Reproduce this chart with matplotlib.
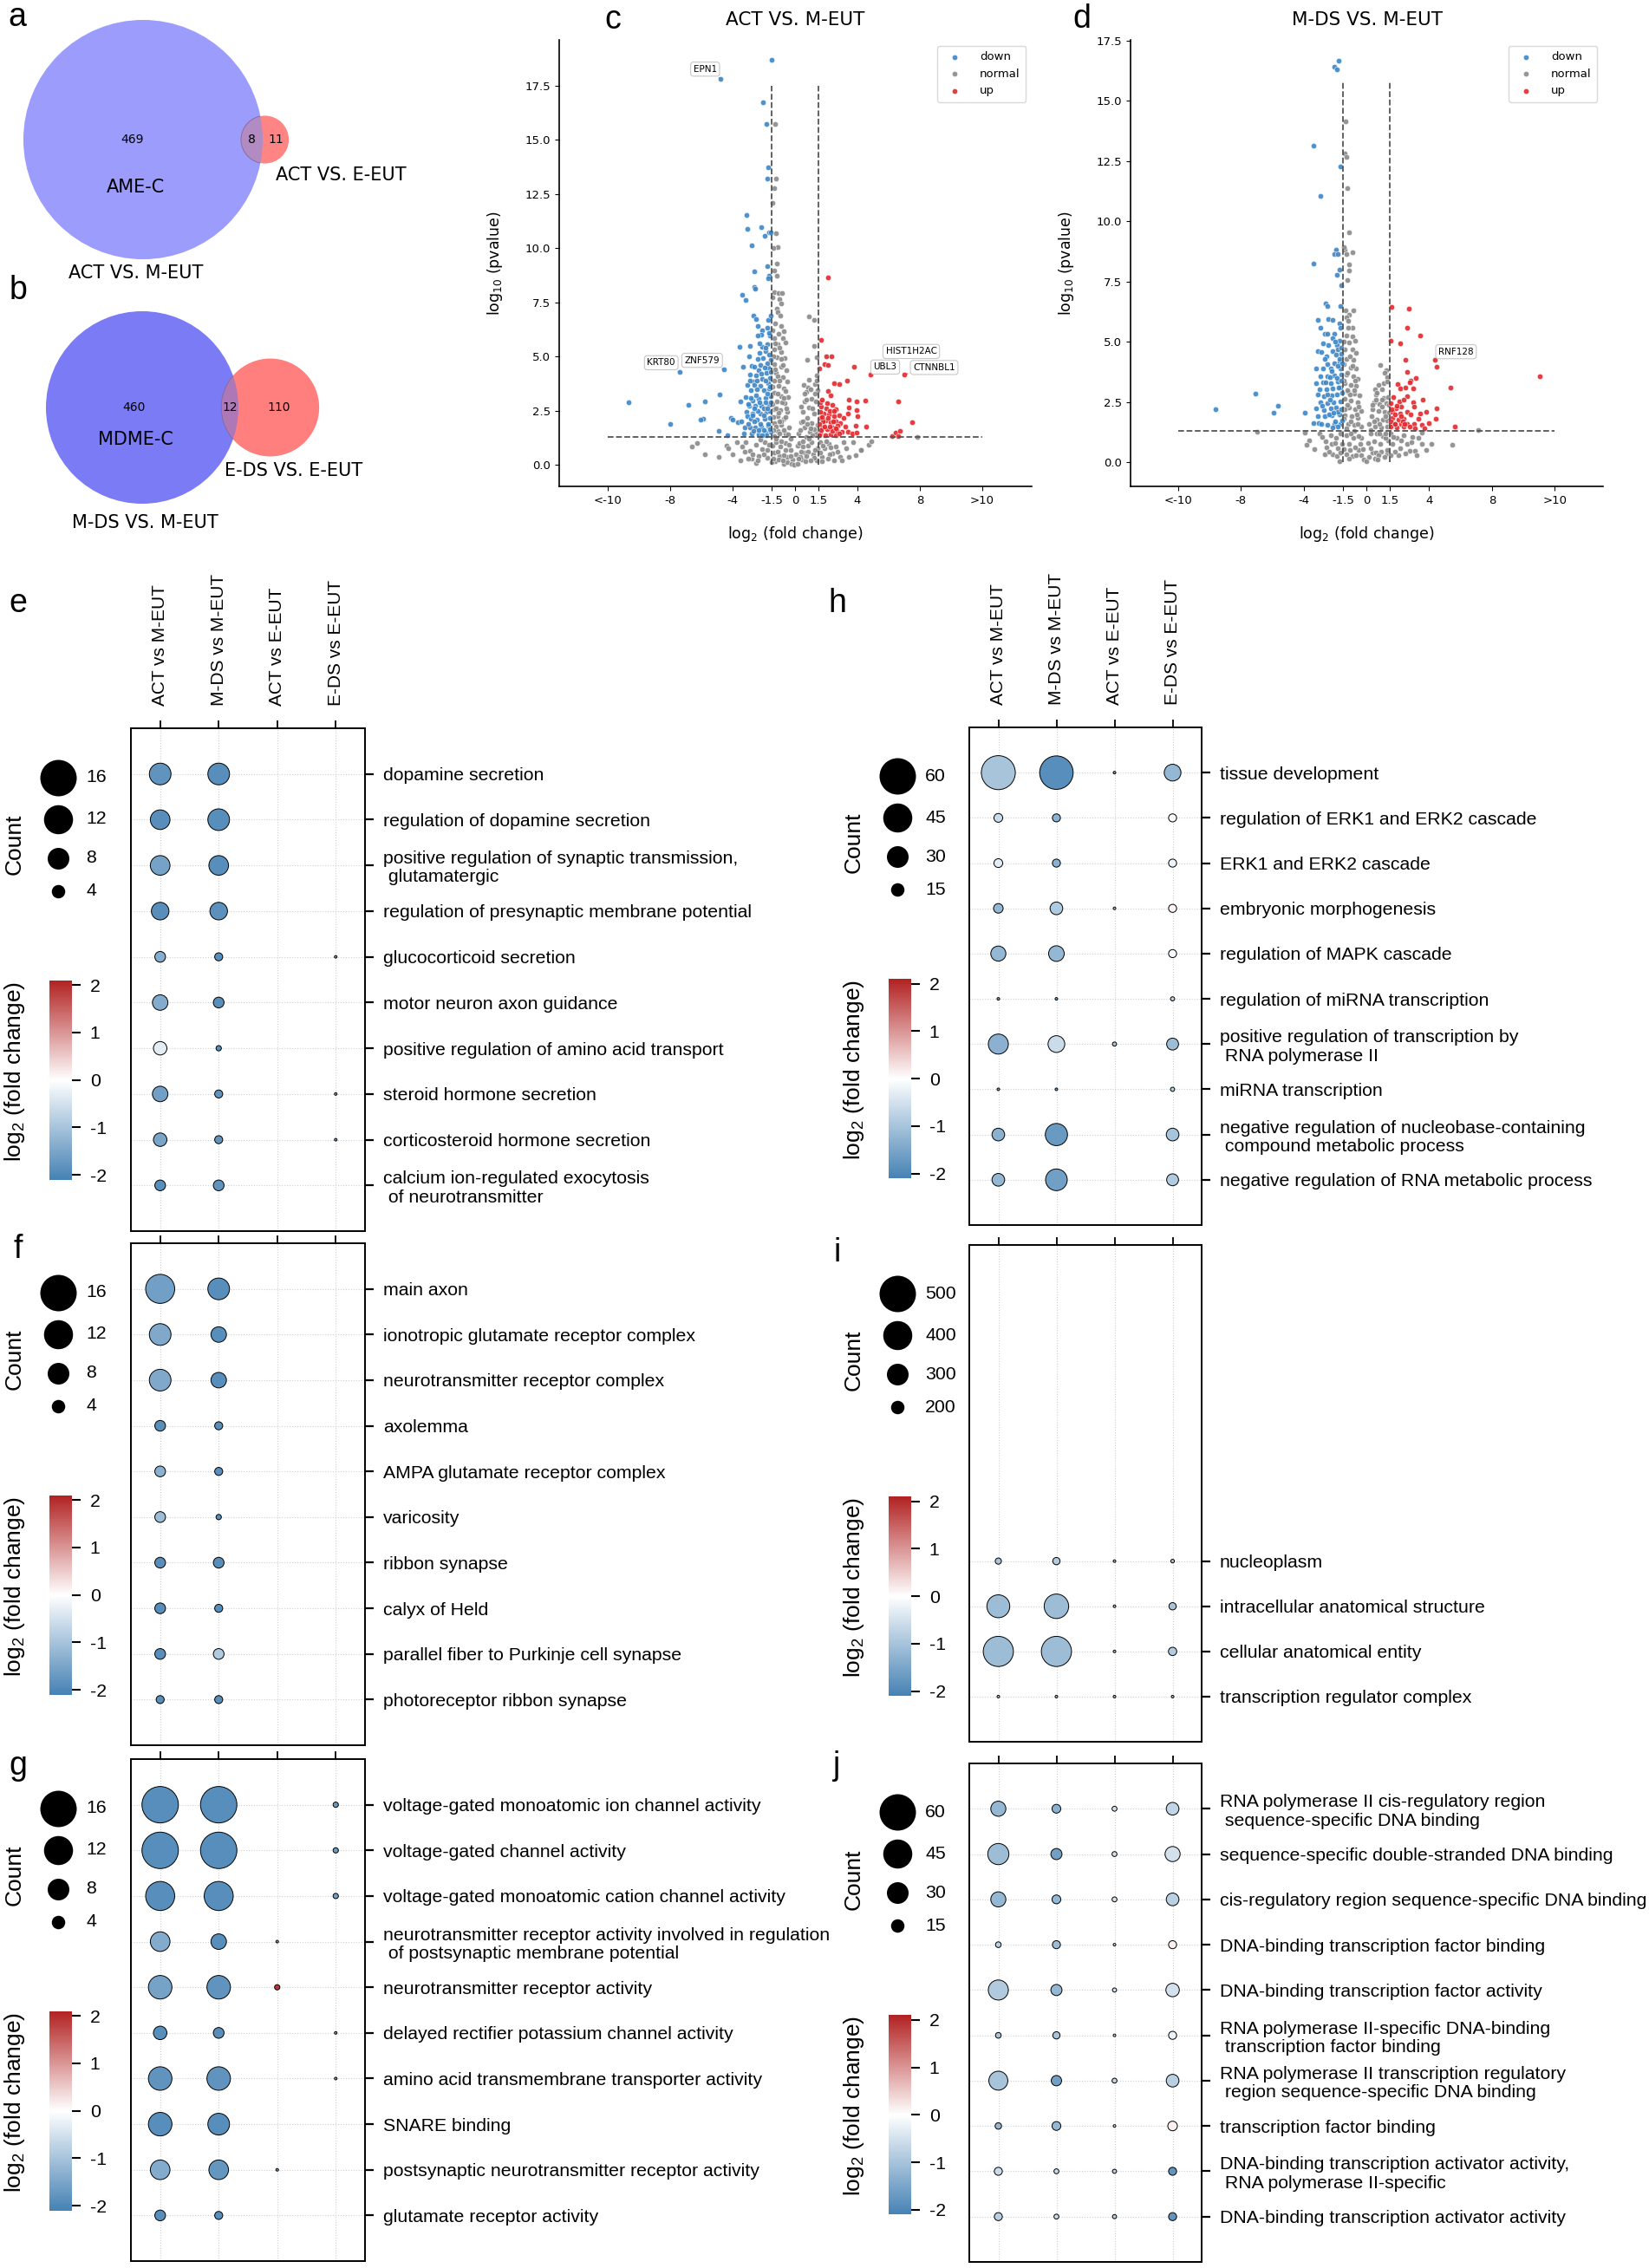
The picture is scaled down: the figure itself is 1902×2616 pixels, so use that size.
import numpy as np
import matplotlib
matplotlib.use('Agg')
import matplotlib.pyplot as plt
import matplotlib.cm as cm
from matplotlib.patches import Circle
from matplotlib.colors import LinearSegmentedColormap, Normalize
from matplotlib import font_manager as fm

plt.rcParams['axes.unicode_minus'] = False

N = np.nan

#%% DATA ---------------------------------------------------------------------------

# venn (a, b): [only first set, shared, only second set]
a_counts = [469, 8, 11]
a_names = ['ACT VS. M-EUT', 'ACT VS. E-EUT', 'AME-C']
b_counts = [460, 12, 110]
b_names = ['M-DS VS. M-EUT', 'E-DS VS. E-EUT', 'MDME-C']

# volcano (c): ACT vs M-EUT, (log2 fold change, -log10 pvalue)
c_down = [(-1.52, 18.68), (-4.77, 17.83), (-2.04, 16.73), (-1.81, 15.74), (-1.73, 13.74), (-1.75, 13.22),
          (-3.12, 11.52), (-3.05, 10.88), (-2.16, 10.98), (-1.69, 10.72), (-1.55, 10.75), (-1.96, 10.56),
          (-2.75, 10.13), (-1.80, 9.16), (-2.59, 8.91), (-1.65, 8.72), (-1.74, 8.59), (-2.61, 8.19), (-2.57, 8.12),
          (-3.36, 7.86), (-3.18, 7.62), (-2.66, 6.89), (-1.72, 6.68), (-2.51, 6.72), (-1.56, 6.89), (-2.38, 6.41),
          (-2.11, 6.21), (-1.80, 6.32), (-2.18, 5.99), (-2.40, 5.97), (-1.63, 5.95), (-3.55, 5.45), (-2.88, 5.49),
          (-1.76, 5.56), (-2.11, 5.43), (-2.26, 5.16), (-2.96, 5.02), (-1.91, 5.23), (-2.07, 4.92), (-1.57, 4.85),
          (-2.75, 4.56), (-3.32, 4.52), (-2.61, 4.54), (-2.31, 4.38), (-1.72, 4.49), (-2.90, 4.18), (-2.50, 4.14),
          (-1.85, 4.25), (-2.11, 3.98), (-2.68, 3.85), (-3.07, 3.68), (-2.59, 3.68), (-2.24, 3.65), (-1.72, 3.76),
          (-2.83, 3.45), (-2.42, 3.48), (-2.02, 3.45), (-1.65, 3.52), (-4.83, 3.24), (-6.84, 2.78), (-5.79, 2.92),
          (-3.49, 2.93), (-3.16, 3.12), (-2.73, 2.98), (-2.33, 3.05), (-1.87, 3.08), (-1.56, 3.18), (-2.97, 2.72),
          (-2.57, 2.72), (-2.15, 2.72), (-1.69, 2.78), (-3.10, 2.45), (-2.70, 2.38), (-2.24, 2.38), (-1.83, 2.45),
          (-5.87, 2.14), (-6.05, 2.07), (-4.12, 2.18), (-3.99, 2.09), (-3.69, 1.95), (-3.42, 2.02), (-3.07, 2.25),
          (-2.83, 2.11), (-2.42, 2.09), (-1.96, 2.11), (-1.59, 2.18), (-3.21, 1.71), (-2.88, 1.71), (-2.55, 1.74),
          (-2.15, 1.78), (-1.72, 1.82), (-4.91, 1.55), (-4.32, 1.38), (-3.25, 1.45), (-2.79, 1.45), (-2.33, 1.42),
          (-1.87, 1.47), (-1.54, 1.51), (-1.60, 2.50), (-2.00, 2.60), (-1.80, 3.30), (-2.30, 2.90), (-2.50, 3.20),
          (-1.60, 4.00), (-2.00, 1.60), (-2.60, 2.00), (-1.70, 1.90), (-2.20, 1.90), (-3.00, 2.80), (-2.40, 2.50),
          (-1.90, 2.90), (-2.90, 3.90), (-1.80, 4.70), (-2.20, 4.60), (-1.90, 5.40), (-2.40, 4.90), (-2.70, 2.30),
          (-1.55, 2.90), (-1.60, 3.60), (-1.55, 4.30), (-1.65, 5.10), (-1.90, 3.90), (-2.15, 4.20), (-2.45, 3.90),
          (-2.00, 2.30), (-1.75, 2.60), (-2.35, 1.60), (-2.65, 1.55), (-3.00, 1.90), (-1.60, 1.65), (-1.85, 1.35),
          (-2.10, 1.35), (-2.60, 2.60), (-2.85, 3.10), (-1.95, 4.50), (-2.25, 5.60), (-1.65, 6.10),
          (-7.37, 4.27), (-4.56, 4.40), (-10.69, 2.88), (-8.00, 1.90)]
c_normal = [(-1.30, 15.74), (-1.24, 13.20), (-1.32, 12.79), (-1.45, 12.08), (-1.20, 10.70), (-1.12, 10.05),
            (-1.41, 10.02), (-1.17, 9.30), (-1.32, 8.96), (-1.19, 8.71), (-1.32, 7.96), (-1.04, 7.92), (-0.84, 7.92),
            (-1.45, 7.72), (-0.99, 7.66), (-0.88, 7.44), (-1.17, 7.21), (-1.10, 7.03), (-0.95, 6.88), (-1.30, 6.52),
            (-0.89, 6.39), (-0.73, 6.15), (-1.04, 6.05), (-1.32, 5.85), (-0.77, 5.85), (-0.62, 5.65), (-1.10, 5.56),
            (-1.32, 5.32), (-0.86, 5.21), (-1.17, 4.98), (-0.67, 4.92), (-1.32, 4.65), (-0.91, 4.54), (-0.58, 4.38),
            (-1.23, 4.25), (-0.80, 4.05), (-1.32, 3.88), (-0.49, 3.85), (-1.04, 3.65), (-0.73, 3.52), (-1.32, 3.32),
            (-0.91, 3.18), (-0.43, 3.12), (-1.17, 2.92), (-0.67, 2.85), (-1.32, 2.58), (-0.95, 2.51), (-0.49, 2.45),
            (-1.13, 2.25), (-0.73, 2.11), (-1.32, 1.91), (-0.86, 1.85), (-0.40, 1.71), (-1.13, 1.58), (-0.62, 1.45),
            (-1.32, 1.34),
            (-1.45, 6.20), (-1.25, 5.60), (-1.00, 5.40), (-1.40, 5.00), (-0.80, 4.60), (-1.10, 4.10), (-1.45, 3.60),
            (-0.60, 3.40), (-1.10, 3.30), (-0.85, 2.90), (-1.45, 2.80), (-0.55, 2.60), (-1.05, 2.40), (-1.40, 2.20),
            (-0.60, 2.20), (-0.90, 2.00), (-1.20, 1.75), (-0.70, 1.60), (-0.45, 1.40), (-1.00, 1.45), (-1.40, 1.60),
            (-0.30, 1.20), (-0.60, 1.00), (-1.45, 0.90), (-0.25, 0.70), (-1.00, 0.40), (-0.50, 0.35), (-1.25, 0.15),
            (-0.70, 0.05), (-0.15, 0.25),
            (0.87, 6.85), (1.22, 6.68), (1.22, 5.49), (0.80, 4.85), (1.41, 4.98), (0.91, 3.92), (1.37, 4.14),
            (0.58, 3.68), (0.84, 3.58), (1.26, 3.72), (0.75, 3.38), (1.45, 3.45), (1.04, 3.05), (0.62, 2.92),
            (1.35, 2.94), (0.89, 2.65), (0.53, 2.45), (1.22, 2.38), (0.80, 2.18), (0.38, 1.98), (1.08, 1.91),
            (1.45, 1.85), (0.62, 1.71), (0.94, 1.51), (0.25, 1.45), (1.35, 1.45),
            (0.40, 2.70), (0.60, 3.30), (1.00, 3.50), (1.40, 3.90), (0.50, 2.00), (0.80, 1.90), (1.25, 1.65),
            (0.35, 1.60), (0.70, 1.30), (1.10, 1.35), (0.15, 0.90), (0.45, 0.25), (0.85, 0.90), (1.15, 0.50),
            (1.40, 0.20), (0.30, 1.00), (0.05, 0.50), (0.60, 0.55),
            (-6.62, 0.85), (-6.25, 1.02), (-5.79, 0.49), (-4.89, 0.35), (-4.41, 0.89), (-4.30, 0.75), (-3.71, 1.05),
            (-3.38, 0.85), (-3.16, 1.05), (-2.88, 0.65), (-2.75, 0.27), (-2.51, 0.91), (-2.33, 0.41), (-2.13, 0.71),
            (-1.96, 1.05), (-1.78, 0.31), (-1.69, 0.91), (-1.50, 0.11), (-1.35, 0.58), (-1.23, 1.05), (-1.04, 0.25),
            (-0.95, 0.85), (-0.73, 0.45), (-0.49, 0.11), (-0.36, 0.91), (-0.21, 0.05), (-0.03, 0.02), (0.16, 0.05),
            (0.34, 0.38), (0.53, 0.85), (0.67, 0.18), (0.86, 0.62), (1.08, 1.05), (1.22, 0.31), (1.45, 0.78),
            (1.63, 1.05), (1.72, 0.38), (1.91, 0.75), (2.18, 0.98), (2.37, 0.51), (2.64, 0.85), (2.88, 0.38),
            (3.10, 1.05), (3.43, 0.38), (3.75, 1.05), (4.21, 0.67), (4.72, 0.91), (4.91, 1.08), (4.24, 0.70),
            (7.84, 1.27),
            (-1.40, 0.30), (-1.10, 0.60), (-0.80, 0.20), (-0.60, 0.70), (-1.20, 1.20), (-0.90, 1.10), (0.40, 0.60),
            (0.70, 0.40), (1.00, 0.20), (1.30, 0.70), (0.90, 1.20), (1.80, 0.90), (2.20, 0.50), (2.50, 0.20),
            (-2.00, 0.50), (-2.50, 0.10), (-3.00, 0.30), (-0.30, 0.40), (0.20, 0.30), (0.50, 1.10), (-1.00, 2.00),
            (-1.20, 2.60), (-0.70, 3.10), (-1.00, 3.90), (-1.30, 4.40), (-0.90, 4.90), (1.10, 2.60), (0.70, 3.00),
            (1.30, 3.30), (1.00, 1.70),
            (-2.20, 1.15), (-2.70, 0.50), (-3.20, 0.60), (-3.50, 0.20), (-1.80, 0.70), (-2.40, 0.20), (1.70, 0.15),
            (2.00, 1.10), (2.30, 0.80), (2.70, 0.60), (3.00, 0.20), (3.30, 0.75), (2.10, 0.30), (1.60, 0.55),
            (-4.00, 0.50), (3.90, 0.45)]
c_up = [(2.12, 8.66), (1.69, 5.77), (2.00, 5.01), (2.31, 5.01), (1.89, 4.65), (2.12, 4.60), (1.58, 4.45),
        (3.78, 4.52), (4.82, 4.16), (7.01, 4.17), (5.30, 4.45), (2.48, 3.78), (2.83, 3.74), (3.31, 3.88), (2.12, 3.42),
        (3.45, 3.02), (3.95, 2.94), (4.52, 2.98), (6.60, 2.94), (1.69, 2.70), (2.00, 2.62), (2.37, 2.76), (2.61, 2.58),
        (3.42, 2.63), (3.95, 2.51), (1.82, 2.38), (2.15, 2.31), (2.52, 2.25), (2.83, 2.27), (3.14, 2.18), (3.38, 2.38),
        (3.99, 2.25), (1.63, 2.18), (1.97, 2.05), (2.28, 1.98), (2.59, 2.01), (2.89, 1.91), (3.88, 1.82), (4.54, 1.75),
        (1.72, 1.71), (2.04, 1.65), (2.37, 1.71), (2.68, 1.61), (3.01, 1.51), (3.38, 1.51), (3.69, 1.45), (3.93, 1.47),
        (1.63, 1.45), (1.97, 1.38), (2.30, 1.41), (2.59, 1.38), (6.23, 1.34), (6.46, 1.47), (6.70, 1.55), (7.52, 1.96),
        (6.62, 1.31), (1.60, 2.90), (1.80, 2.00), (2.20, 2.50), (1.65, 1.60), (2.40, 1.55), (2.75, 1.80),
        (1.55, 1.90), (1.60, 2.45), (1.75, 2.20), (1.90, 1.75), (2.10, 2.15), (2.25, 1.75), (2.45, 2.00),
        (2.60, 1.70), (2.05, 2.85), (1.75, 3.00), (2.30, 3.20), (1.55, 1.35), (2.85, 1.45), (3.20, 1.75), (2.50, 2.50)]
c_genes = [('EPN1', (-4.77, 17.83), (-5.76, 18.27)), ('KRT80', (-7.37, 4.27), (-8.57, 4.71)),
           ('ZNF579', (-4.56, 4.40), (-5.95, 4.82)), ('HIST1H2AC', (5.30, 4.45), (7.45, 5.23)),
           ('UBL3', (4.82, 4.16), (5.78, 4.51)), ('CTNNBL1', (7.01, 4.17), (8.92, 4.49))]

# volcano (d): M-DS vs M-EUT
d_down = [(-1.78, 16.68), (-2.04, 16.42), (-1.87, 16.32), (-3.35, 13.13), (-1.65, 12.27), (-2.91, 11.05),
          (-1.91, 8.84), (-2.02, 8.66), (-1.80, 8.66), (-3.36, 8.25), (-1.70, 8.01), (-1.87, 7.78), (-1.61, 7.35),
          (-2.59, 6.58), (-2.48, 6.47), (-1.65, 6.48), (-3.08, 5.90), (-2.44, 5.95), (-2.16, 5.90), (-2.94, 5.59),
          (-1.70, 5.78), (-1.68, 5.59), (-2.64, 5.35), (-2.49, 5.35), (-2.05, 5.33), (-2.13, 5.17), (-1.70, 5.06),
          (-2.75, 4.94), (-2.44, 4.88), (-1.87, 4.87), (-3.12, 4.63), (-2.88, 4.58), (-2.14, 4.63), (-1.80, 4.70),
          (-1.61, 4.75), (-2.53, 4.40), (-1.92, 4.46), (-1.61, 4.49), (-2.51, 4.06), (-2.02, 4.12), (-1.74, 4.18),
          (-3.18, 3.88), (-2.75, 3.88), (-2.29, 3.88), (-1.65, 3.88), (-2.94, 3.58), (-2.48, 3.58), (-2.02, 3.62),
          (-1.61, 3.64), (-3.21, 3.28), (-2.75, 3.31), (-2.29, 3.28), (-1.83, 3.34), (-2.99, 3.04), (-2.57, 3.02),
          (-2.16, 3.07), (-1.65, 3.10), (-3.08, 2.80), (-2.71, 2.74), (-2.24, 2.78), (-1.87, 2.83), (-2.94, 2.50),
          (-2.48, 2.47), (-2.11, 2.50), (-1.65, 2.54), (-3.18, 2.23), (-2.71, 2.18), (-2.29, 2.23), (-1.92, 2.26),
          (-7.07, 2.84), (-5.66, 2.35), (-5.94, 2.05), (-3.91, 2.05), (-3.36, 1.62), (-3.03, 1.62), (-3.12, 1.90),
          (-2.66, 1.90), (-2.20, 1.96), (-1.74, 1.99), (-2.90, 1.58), (-2.48, 1.54), (-2.05, 1.60), (-1.65, 1.58),
          (-9.61, 2.21), (-2.30, 2.60), (-1.90, 3.50), (-2.60, 3.30), (-1.80, 2.10), (-2.20, 3.80), (-1.70, 4.30),
          (-2.40, 2.00), (-2.00, 1.70),
          (-1.55, 2.90), (-1.60, 3.40), (-1.55, 4.10), (-1.60, 2.20), (-1.55, 1.75), (-1.80, 1.50), (-2.10, 2.05),
          (-2.50, 2.80), (-2.80, 2.35), (-2.30, 3.55), (-1.85, 4.00), (-2.65, 4.30), (-2.00, 5.00), (-1.75, 3.10),
          (-2.15, 1.45)]
d_normal = [(-1.33, 14.16), (-1.37, 12.82), (-1.26, 12.66), (-1.20, 11.38), (-1.13, 9.55), (-1.41, 8.84),
            (-1.46, 8.93), (-0.91, 8.72), (-1.28, 8.63), (-1.10, 8.21), (-1.13, 7.97), (-1.22, 7.57),
            (-1.32, 6.29), (-0.82, 6.29), (-1.10, 6.14), (-1.28, 6.02), (-1.19, 5.87), (-0.87, 5.57), (-1.19, 5.57),
            (-0.91, 5.21), (-1.28, 5.27), (-0.73, 5.03), (-1.13, 4.97), (-1.37, 4.67), (-0.91, 4.67), (-0.64, 4.55),
            (-1.28, 4.30), (-0.82, 4.24), (-1.46, 4.06), (-1.00, 3.94), (-0.64, 3.88), (-1.28, 3.64), (-0.82, 3.58),
            (-0.54, 3.46), (-1.37, 3.28), (-1.00, 3.22), (-0.64, 3.16), (-1.19, 2.92), (-0.76, 2.86), (-0.45, 2.78),
            (-1.37, 2.62), (-1.00, 2.56), (-0.58, 2.50), (-1.13, 2.26), (-0.73, 2.20), (-0.36, 2.14), (-1.37, 1.96),
            (-0.95, 1.90), (-0.54, 1.84), (-1.19, 1.60), (-0.76, 1.54), (-0.32, 1.48),
            (-1.45, 5.00), (-1.05, 4.40), (-1.45, 3.40), (-0.75, 3.00), (-1.20, 2.40), (-0.50, 2.30), (-1.45, 1.80),
            (-1.00, 1.70), (-0.55, 1.60), (-1.30, 1.40), (-0.80, 1.30), (-0.35, 1.00), (-1.05, 0.50), (-0.50, 0.50),
            (-1.45, 0.55), (-0.90, 0.25), (-0.25, 0.55), (-1.20, 3.70), (-0.70, 3.40), (-1.05, 2.80),
            (0.89, 4.03), (1.28, 3.82), (1.17, 3.70), (1.34, 3.55), (0.75, 3.22), (1.11, 3.28), (1.34, 3.34),
            (0.56, 3.02), (0.97, 3.02), (0.59, 2.80), (1.11, 2.68), (1.39, 2.71), (0.47, 2.50), (0.84, 2.42),
            (1.26, 2.44), (0.38, 2.20), (0.75, 2.14), (1.15, 2.08), (1.45, 2.06), (0.34, 1.90), (0.65, 1.78),
            (1.02, 1.78), (1.34, 1.72), (0.19, 1.60), (0.56, 1.48), (0.93, 1.46), (1.30, 1.48),
            (0.40, 2.40), (0.65, 2.90), (1.00, 2.60), (1.45, 2.40), (0.50, 1.70), (0.85, 1.60), (1.20, 1.90),
            (0.25, 1.35), (0.65, 1.20), (1.05, 1.10), (1.40, 0.90), (0.40, 0.40), (0.95, 0.45), (1.35, 0.35),
            (0.10, 0.80), (0.55, 0.15),
            (-6.99, 1.28), (-3.95, 1.22), (-3.67, 0.90), (-3.82, 0.72), (-2.99, 1.18), (-2.62, 0.88), (-2.57, 0.61),
            (-2.66, 0.34), (-2.29, 1.14), (-2.24, 0.76), (-2.16, 0.34), (-1.92, 1.00), (-1.80, 0.58), (-1.87, 0.25),
            (-1.65, 1.18), (-1.56, 0.76), (-1.65, 0.40), (-1.28, 1.12), (-1.13, 0.76), (-1.28, 0.34), (-1.10, 0.16),
            (-0.82, 1.00), (-0.73, 0.61), (-0.64, 0.28), (-0.40, 0.76), (-0.32, 0.30), (-0.17, 0.10), (0.01, 0.04),
            (0.19, 0.22), (0.29, 0.58), (0.47, 0.88), (0.59, 0.40), (0.84, 1.18), (0.89, 0.76), (0.75, 0.28),
            (1.21, 1.00), (1.30, 0.52), (1.15, 0.22), (1.57, 1.18), (1.67, 0.76), (1.52, 0.28), (1.94, 1.00),
            (2.13, 0.58), (2.03, 0.28), (2.40, 1.12), (2.59, 0.76), (2.77, 0.46), (2.86, 0.82), (3.10, 0.49),
            (3.32, 1.00), (3.51, 0.76), (4.14, 0.76), (3.51, 1.24), (5.46, 0.74), (7.10, 1.34),
            (-1.00, 1.20), (-0.60, 2.00), (-1.20, 3.00), (-0.90, 4.00), (0.60, 2.60), (1.00, 2.30), (0.30, 1.20),
            (1.20, 1.20), (-0.50, 1.10), (0.70, 0.10), (-1.40, 2.20),
            (-2.40, 0.45), (-2.00, 0.80), (-2.80, 1.05), (-3.30, 0.55), (1.80, 0.45), (2.20, 0.90), (2.50, 0.35),
            (2.90, 1.05), (3.20, 0.30), (3.80, 0.50), (1.70, 1.05), (-1.70, 0.05)]
d_up = [(1.61, 6.43), (2.68, 6.37), (2.62, 5.59), (3.41, 5.25), (1.54, 5.06), (2.16, 4.93), (4.36, 4.24),
        (4.48, 3.98), (2.46, 4.27), (2.59, 3.74), (3.12, 3.50), (2.83, 3.40), (2.74, 3.31), (5.35, 3.09),
        (1.98, 3.25), (2.13, 3.07), (2.50, 3.10), (2.96, 3.07), (2.62, 2.73), (3.60, 2.60), (2.07, 2.53),
        (2.97, 2.49), (3.05, 2.30), (1.57, 2.44), (1.85, 2.23), (2.22, 2.30), (4.45, 2.23), (3.80, 2.11),
        (1.67, 2.08), (2.13, 2.02), (2.59, 2.11), (3.41, 2.02), (4.42, 1.82), (1.67, 1.84), (2.03, 1.78),
        (2.40, 1.82), (1.76, 1.60), (2.22, 1.60), (2.62, 1.60), (3.05, 1.58), (3.51, 1.55), (3.97, 1.62),
        (5.62, 1.48), (1.57, 1.48), (1.94, 1.46), (2.40, 1.48), (2.77, 1.48), (3.10, 1.42), (3.69, 1.42),
        (11.06, 3.56), (1.80, 2.00), (2.30, 1.70),
        (1.55, 1.70), (1.60, 2.20), (1.80, 1.60), (1.95, 2.35), (2.20, 1.90), (2.45, 1.60), (1.70, 2.70),
        (2.35, 2.60), (2.80, 2.00), (3.30, 1.80)]
d_genes = [('RNF128', (4.36, 4.24), (5.71, 4.59))]

x_ticks = [-12, -8, -4, -1.5, 0, 1.5, 4, 8, 12]
x_ticklabels = ['<-10', '-8', '-4', '-1.5', '0', '1.5', '4', '8', '>10']

# GO dot plots: columns, terms, gene counts and mean log2 fold change
cols = ['ACT vs M-EUT', 'M-DS vs M-EUT', 'ACT vs E-EUT', 'E-DS vs E-EUT']

e_terms = ['dopamine secretion', 'regulation of dopamine secretion',
           'positive regulation of synaptic transmission,\n glutamatergic',
           'regulation of presynaptic membrane potential', 'glucocorticoid secretion',
           'motor neuron axon guidance', 'positive regulation of amino acid transport',
           'steroid hormone secretion', 'corticosteroid hormone secretion',
           'calcium ion-regulated exocytosis\n of neurotransmitter']
e_count = [[8, 8, N, N], [7, 8, N, N], [7, 7, N, N], [6, 6, N, N], [3, 2, N, 0],
           [5, 3, N, N], [4, 1, N, N], [5, 2, N, 0], [4, 2, N, 0], [3, 3, N, N]]
e_fc = [[-1.8, -1.9, N, N], [-1.9, -1.9, N, N], [-1.55, -1.9, N, N], [-1.9, -1.85, N, N],
        [-1.35, -1.9, N, -1.5], [-1.4, -1.9, N, N], [-0.3, -1.9, N, N], [-1.6, -1.8, N, -1.5],
        [-1.5, -1.8, N, -1.5], [-1.9, -1.8, N, N]]

f_terms = ['main axon', 'ionotropic glutamate receptor complex', 'neurotransmitter receptor complex',
           'axolemma', 'AMPA glutamate receptor complex', 'varicosity', 'ribbon synapse', 'calyx of Held',
           'parallel fiber to Purkinje cell synapse', 'photoreceptor ribbon synapse']
f_count = [[12, 8, N, N], [8, 5, N, N], [8, 5, N, N], [3, 2, N, N], [3, 2, N, N],
           [3, 1, N, N], [3, 3, N, N], [3, 2, N, N], [3, 3, N, N], [2, 2, N, N]]
f_fc = [[-1.6, -1.9, N, N], [-1.45, -1.9, N, N], [-1.45, -1.9, N, N], [-1.9, -1.9, N, N],
        [-1.3, -1.9, N, N], [-1.1, -1.9, N, N], [-1.9, -1.9, N, N], [-1.9, -1.9, N, N],
        [-1.9, -0.9, N, N], [-1.9, -1.9, N, N]]

g_terms = ['voltage-gated monoatomic ion channel activity', 'voltage-gated channel activity',
           'voltage-gated monoatomic cation channel activity',
           'neurotransmitter receptor activity involved in regulation\n of postsynaptic membrane potential',
           'neurotransmitter receptor activity', 'delayed rectifier potassium channel activity',
           'amino acid transmembrane transporter activity', 'SNARE binding',
           'postsynaptic neurotransmitter receptor activity', 'glutamate receptor activity']
g_count = [[16, 16, N, 1], [16, 16, N, 1], [12, 12, N, 1], [7, 5, 0, N], [9, 9, 1, N],
           [4, 3, N, 0], [9, 9, N, 0], [9, 8, N, N], [7, 7, 0, N], [3, 2, N, N]]
g_fc = [[-1.9, -1.9, N, -1.7], [-1.9, -1.9, N, -1.7], [-1.9, -1.9, N, -1.6], [-1.4, -1.9, -1.5, N],
        [-1.55, -1.8, 1.9, N], [-1.9, -1.9, N, -1.5], [-1.8, -1.8, N, -1.5], [-1.9, -1.9, N, N],
        [-1.4, -1.75, -1.5, N], [-1.9, -1.9, N, N]]

h_terms = ['tissue development', 'regulation of ERK1 and ERK2 cascade', 'ERK1 and ERK2 cascade',
           'embryonic morphogenesis', 'regulation of MAPK cascade', 'regulation of miRNA transcription',
           'positive regulation of transcription by\n RNA polymerase II', 'miRNA transcription',
           'negative regulation of nucleobase-containing\n compound metabolic process',
           'negative regulation of RNA metabolic process']
h_count = [[55, 54, 1, 21], [9, 8, N, 8], [9, 8, N, 8], [10, 14, 1, 8], [18, 19, N, 8],
           [1, 1, N, 3], [27, 21, 3, 13], [1, 1, N, 3], [14, 31, N, 14], [14, 30, N, 13]]
h_fc = [[-1.0, -1.9, -1.5, -1.2], [-0.6, -1.3, N, -0.1], [-0.3, -1.3, N, -0.2], [-1.2, -0.9, -1.0, 0.1],
        [-1.2, -1.2, N, -0.1], [-1.5, -1.5, N, -0.8], [-1.3, -0.6, -1.0, -1.1], [-1.5, -1.5, N, -0.8],
        [-1.3, -1.7, N, -1.0], [-1.2, -1.6, N, -0.9]]

i_terms = ['nucleoplasm', 'intracellular anatomical structure', 'cellular anatomical entity',
           'transcription regulator complex']
i_count = [[80, 98, 20, 37], [316, 338, 20, 98], [415, 415, 20, 115], [20, 20, 20, 20]]
i_fc = [[-1.0, -0.9, -1.0, -1.0], [-1.1, -1.1, -1.0, -1.0], [-1.1, -1.1, -1.0, -0.9], [-1.0, -1.0, -1.0, -1.0]]

j_terms = ['RNA polymerase II cis-regulatory region\n sequence-specific DNA binding',
           'sequence-specific double-stranded DNA binding',
           'cis-regulatory region sequence-specific DNA binding',
           'DNA-binding transcription factor binding', 'DNA-binding transcription factor activity',
           'RNA polymerase II-specific DNA-binding\n transcription factor binding',
           'RNA polymerase II transcription regulatory\n region sequence-specific DNA binding',
           'transcription factor binding',
           'DNA-binding transcription activator activity,\n RNA polymerase II-specific',
           'DNA-binding transcription activator activity']
j_count = [[18, 9, 4, 14], [29, 12, 4, 18], [18, 9, 4, 14], [5, 8, 1, 8], [27, 12, 3, 15],
           [5, 7, 1, 8], [25, 11, 4, 14], [6, 9, 1, 10], [8, 4, 3, 8], [8, 4, 3, 8]]
j_fc = [[-1.2, -1.3, -0.5, -0.7], [-1.1, -1.6, -0.5, -0.5], [-1.2, -1.2, -0.5, -0.8], [-0.8, -1.1, -0.5, 0.15],
        [-0.9, -1.2, -0.5, -0.5], [-1.0, -1.0, -0.5, -0.2], [-1.0, -1.6, -0.7, -0.8], [-1.2, -1.2, -0.5, 0.15],
        [-0.6, -0.6, -0.8, -1.8], [-0.8, -0.6, -0.8, -1.8]]

# size legend breaks (smallest count drawn as a tiny dot)
bp_breaks, bp_min = [4, 8, 12, 16], 0
h_breaks, h_min = [15, 30, 45, 60], 1
i_breaks, i_min = [200, 300, 400, 500], 20

#%% STYLE --------------------------------------------------------------------------

def has_font(name):
    try:
        fm.findfont(fm.FontProperties(family=name), fallback_to_default=False)
        return True
    except ValueError:
        return False

SANS = 'Liberation Sans'
if has_font('Liberation Sans Narrow'):
    NARROW, NSIZE = 'Liberation Sans Narrow', 18
else:
    NARROW, NSIZE = 'Liberation Sans', 15.3

cmap = LinearSegmentedColormap.from_list('fc', ['#4682B4', '#FFFFFF', '#B22222'])
norm = Normalize(-2.1, 2.1)
key_diam = [3, 15.5, 25, 33.5, 42]   # px, for [min] + breaks

W, H = 1902, 2616
fig = plt.figure(figsize=(W / 100, H / 100), dpi=100)


def px_axes(x0, y0, x1, y1):
    return fig.add_axes([x0 / W, 1 - y1 / H, (x1 - x0) / W, (y1 - y0) / H])


def ftext(x, y, s, **kw):
    fig.text(x / W, 1 - y / H, s, **kw)


overlay = fig.add_axes([0, 0, 1, 1])
overlay.set_xlim(0, W)
overlay.set_ylim(H, 0)
overlay.axis('off')

#%% VENN (a, b) ---------------------------------------------------------------------

def lens_area(r1, r2, d):
    if d >= r1 + r2:
        return 0.0
    if d <= abs(r1 - r2):
        return np.pi * min(r1, r2) ** 2
    a1 = r1 ** 2 * np.arccos((d ** 2 + r1 ** 2 - r2 ** 2) / (2 * d * r1))
    a2 = r2 ** 2 * np.arccos((d ** 2 + r2 ** 2 - r1 ** 2) / (2 * d * r2))
    k = 0.5 * np.sqrt((-d + r1 + r2) * (d + r1 - r2) * (d - r1 + r2) * (d + r1 + r2))
    return a1 + a2 - k


def venn(box, center, scale, counts, names, colors, label_pos):
    x0, y0, x1, y1 = box
    cx, cy = center
    ax = px_axes(*box)
    ax.set_xlim((x0 - cx) / scale, (x1 - cx) / scale)
    ax.set_ylim((cy - y1) / scale, (cy - y0) / scale)
    ax.axis('off')
    r1 = np.sqrt(counts[0] + counts[1])
    r2 = np.sqrt(counts[1] + counts[2])
    lo, hi = abs(r1 - r2), r1 + r2
    for _ in range(80):
        mid = 0.5 * (lo + hi)
        if lens_area(r1, r2, mid) > np.pi * counts[1]:
            lo = mid
        else:
            hi = mid
    d = 0.5 * (lo + hi)
    ca = Circle((0, 0), r1, fc=colors[0], ec='none')
    cb = Circle((d, 0), r2, fc=colors[1], ec='none')
    ov = Circle((d, 0), r2, fc=colors[2], ec='#7d6a9e', lw=0.6)
    ax.add_patch(ca)
    ax.add_patch(cb)
    ax.add_patch(ov)
    ov.set_clip_path(ca)
    xs = [(-r1 + d - r2) / 2, (d - r2 + r1) / 2, (r1 + d + r2) / 2]
    for x, n in zip(xs, counts):
        ax.text(x, 0, str(n), ha='center', va='center', fontsize=10)
    for (x, y), s in zip(label_pos, names):
        ax.text(x, y, s, ha='center', va='center', fontsize=15)


venn((0, 0, 580, 330), (165, 161), 6.32, a_counts, a_names,
     ['#9c9cfd', '#ff8585', '#b28bc3'], [(-1.3, -24.4), (36.1, -6.5), (-1.3, -8.7)])
venn((0, 330, 580, 640), (164, 470), 5.11, b_counts, b_names,
     ['#7b7bf6', '#ff7e7e', '#ae78b6'], [(0.6, -26.1), (34.2, -14.3), (-1.4, -7.2)])

#%% VOLCANO (c, d) ------------------------------------------------------------------

def volcano(box, xlim, ylim, title, down, normal, up, vtop, genes):
    ax = px_axes(*box)
    groups = [('normal', normal, '#8a8a8a'), ('down', down, '#3d86c6'), ('up', up, '#e3282d')]
    handles = {}
    for name, pts, col in groups:
        pts = np.array(pts)
        handles[name] = ax.scatter(pts[:, 0], pts[:, 1], s=21, color=col, alpha=0.9,
                                   edgecolors='white', linewidths=0.4, label=name, zorder=2)
    ax.hlines(-np.log10(0.05), -12, 12, colors='#555555', linestyles='--', lw=1.3, zorder=3)
    ax.vlines([-1.5, 1.5], 0, vtop, colors='#555555', linestyles='--', lw=1.3, zorder=3)
    for name, pt, txt in genes:
        col = '#3d86c6' if pt[0] < 0 else '#e3282d'
        ax.annotate(name, xy=pt, xytext=txt, fontsize=7.5, ha='center', va='center', zorder=5,
                    bbox=dict(boxstyle='round,pad=0.3', fc='white', ec='#c8c8c8', lw=0.8),
                    arrowprops=dict(arrowstyle='-', color=col, lw=0.6))
    ax.set_xlim(*xlim)
    ax.set_ylim(*ylim)
    ax.set_xticks(x_ticks)
    ax.set_xticklabels(x_ticklabels)
    ax.set_yticks(np.arange(0, 17.6, 2.5))
    ax.set_yticklabels(['%.1f' % v for v in np.arange(0, 17.6, 2.5)])
    ax.tick_params(labelsize=9.5)
    for s in ['top', 'right']:
        ax.spines[s].set_visible(False)
    for s in ['left', 'bottom']:
        ax.spines[s].set_linewidth(1.2)
    ax.set_xlabel('log$_2$ (fold change)', fontsize=12.5, labelpad=15)
    ax.set_ylabel('log$_{10}$ (pvalue)', fontsize=12.5, labelpad=17)
    ax.set_title(title, fontsize=15.5, pad=12)
    ax.legend([handles['down'], handles['normal'], handles['up']], ['down', 'normal', 'up'],
              loc='upper right', fontsize=9.5, handletextpad=1.2, borderpad=0.5, edgecolor='#d0d0d0')
    return ax


volcano((645, 46, 1190, 561), (-15.11, 15.17), (-1.0, 19.62), 'ACT VS. M-EUT',
        c_down, c_normal, c_up, 17.5, c_genes)
volcano((1304, 46, 1849, 561), (-15.03, 15.08), (-1.0, 17.53), 'M-DS VS. M-EUT',
        d_down, d_normal, d_up, 15.8, d_genes)

#%% GO DOT PLOTS (e - j) -------------------------------------------------------------

def dotplot(box, terms, counts, fcs, breaks, cmin, side, show_cols, row_start=0):
    x0, y0, x1, y1 = box
    ax = px_axes(x0, y0, x1, y1)
    counts = np.array(counts, float)
    fcs = np.array(fcs, float)
    rows = np.arange(len(terms)) + row_start
    anchors = [cmin] + list(breaks)
    for j in range(4):
        m = ~np.isnan(counts[:, j])
        diam = np.interp(counts[m, j], anchors, key_diam)
        ax.scatter(np.full(m.sum(), j), rows[m], s=(diam * 0.72) ** 2, c=fcs[m, j], cmap=cmap,
                   norm=norm, edgecolors='black', linewidths=0.7, zorder=3)
    ax.set_xlim(-0.5, 3.5)
    ax.set_ylim(10, -1)
    ax.xaxis.tick_top()
    ax.set_xticks(range(4))
    ax.set_xticklabels(cols if show_cols else [''] * 4, rotation=90, fontfamily=SANS, fontsize=15)
    ax.yaxis.tick_right()
    ax.set_yticks(rows)
    ax.set_yticklabels(terms, fontfamily=NARROW, fontsize=NSIZE, linespacing=1.15)
    ax.tick_params(axis='x', length=6.5, width=1.3, pad=12)
    ax.tick_params(axis='y', length=7, width=1.6, pad=8)
    ax.grid(color='#cfcfcf', ls=':', lw=0.8)
    ax.set_axisbelow(True)
    for s in ax.spines.values():
        s.set_linewidth(1.4)

    # size legend + colour bar on the left of the panel
    sp = (y1 - y0) / 11
    r0 = y0 + sp
    lx, cbx, tx = (67, 57, 17) if side == 'L' else (1035, 1025, 985)
    for dk, b, off in zip(key_diam[:0:-1], breaks[::-1], [4, 52, 97, 135]):
        overlay.scatter(lx, r0 + off, s=(dk * 0.72) ** 2, c='black', lw=0)
        overlay.text(lx + 32, r0 + off, str(b), ha='left', va='center', fontfamily=NARROW, fontsize=NSIZE)
    ftext(tx, r0 + 81, 'Count', rotation=90, ha='center', va='center', fontfamily=SANS, fontsize=19)
    cax = px_axes(cbx, r0 + 238, cbx + 26, r0 + 468)
    cb = fig.colorbar(cm.ScalarMappable(norm=norm, cmap=cmap), cax=cax, ticks=[-2, -1, 0, 1, 2])
    cb.outline.set_visible(False)
    cax.tick_params(length=7, width=1.5, pad=8)
    for t in cax.get_yticklabels():
        t.set_fontfamily(NARROW)
        t.set_fontsize(NSIZE)
    ftext(tx, r0 + 343, r'log$_{\mathregular{2}}$ (fold change)', rotation=90, ha='center', va='center',
          fontfamily=SANS, fontsize=19)
    return ax


dotplot((151, 840, 421, 1420), e_terms, e_count, e_fc, bp_breaks, bp_min, 'L', True)
dotplot((151, 1434, 421, 2013), f_terms, f_count, f_fc, bp_breaks, bp_min, 'L', False)
dotplot((151, 2029, 421, 2608), g_terms, g_count, g_fc, bp_breaks, bp_min, 'L', False)
dotplot((1118, 839, 1386, 1413), h_terms, h_count, h_fc, h_breaks, h_min, 'R', True)
dotplot((1118, 1436, 1386, 2009), i_terms, i_count, i_fc, i_breaks, i_min, 'R', False, row_start=6)
dotplot((1118, 2034, 1386, 2609), j_terms, j_count, j_fc, h_breaks, h_min, 'R', False)

# panel letters
for s, x, y in [('a', 20, 20), ('b', 21, 335), ('c', 707, 23), ('d', 1248, 22), ('e', 21, 696),
                ('f', 21, 1441), ('g', 21, 2037), ('h', 966, 696), ('i', 966, 1445), ('j', 965, 2037)]:
    ftext(x, y, s, ha='center', va='center', fontfamily=SANS, fontsize=27)

fig.savefig('out.png', dpi=100, facecolor='white')
